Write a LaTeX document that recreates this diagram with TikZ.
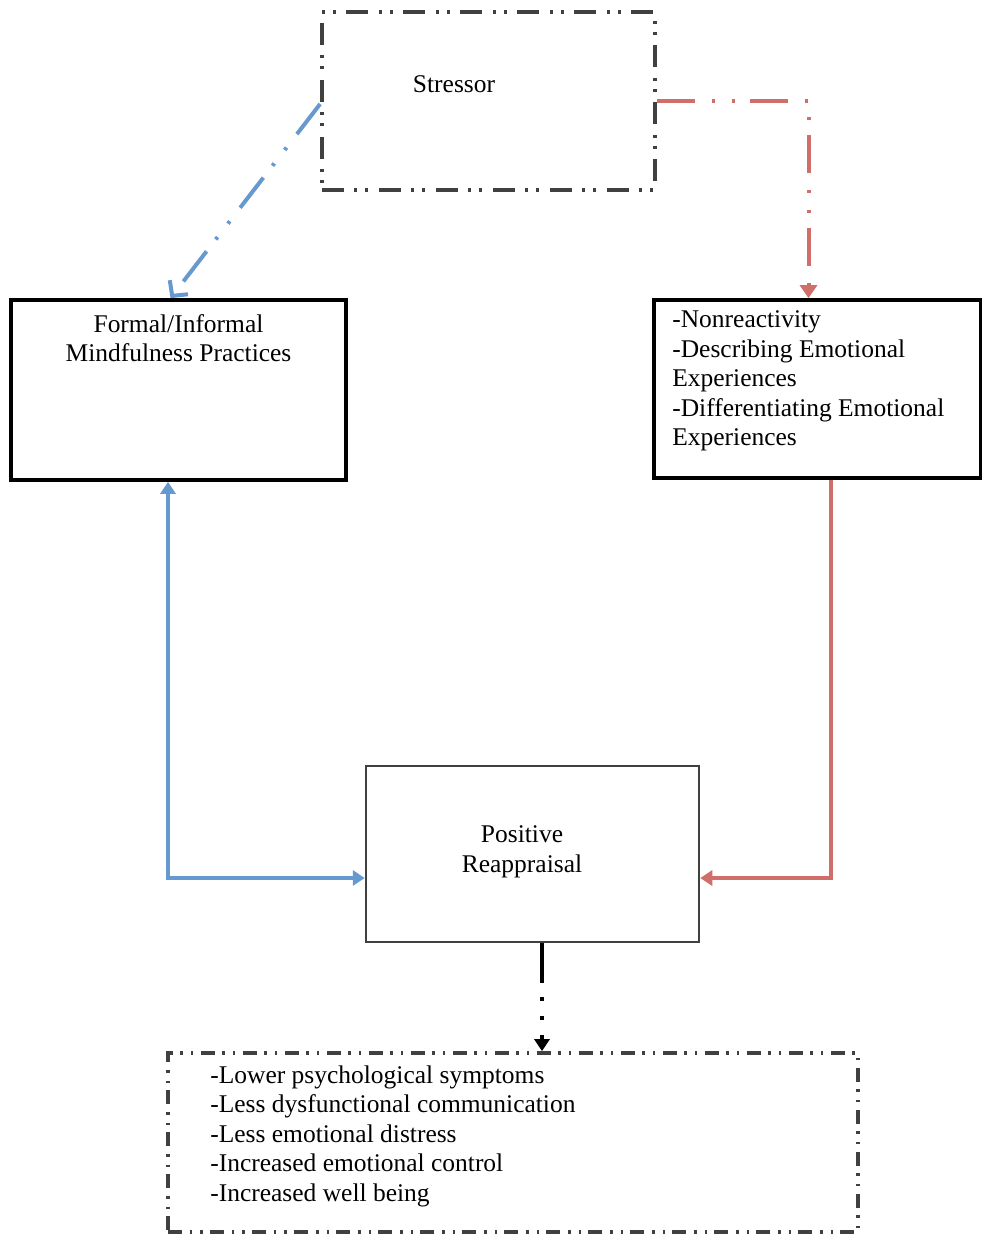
\documentclass[tikz,border=0pt]{standalone}
\usepackage{fontspec}
\setmainfont{Liberation Serif}
\usetikzlibrary{arrows.meta,positioning}

\definecolor{boxgray}{RGB}{64,64,64}
\definecolor{linkblue}{RGB}{102,153,207}
\definecolor{linkred}{RGB}{208,110,106}

\tikzset{
	solidbox/.style={draw=black, line width=0.75mm, inner sep=0, fill=white},
	dashbox/.style={draw=boxgray, line width=0.75mm, inner sep=0,
		dash pattern=on 4.4mm off 2mm on 0.6mm off 1.6mm on 0.6mm off 2.2mm},
	boxtext/.style={inner sep=0, font=\fontsize{14.5}{16.8}\selectfont},
	reddash/.style={draw=linkred, line width=0.8mm, -{Triangle[length=2.6mm,width=3.4mm]},
		dash pattern=on 7.6mm off 3.4mm on 0.6mm off 3.4mm on 0.6mm off 3mm},
	bluedash/.style={draw=linkblue, line width=0.8mm, -{Straight Barb[length=2.2mm,width=4.6mm]},
		dash pattern=on 7.6mm off 3.4mm on 0.6mm off 3.4mm on 0.6mm off 3mm},
	bluelink/.style={draw=linkblue, line width=0.9mm, {Triangle[length=2.4mm,width=3mm]}-{Triangle[length=2.4mm,width=3mm]}},
	redlink/.style={draw=linkred, line width=0.9mm, -{Triangle[length=2.4mm,width=3mm]}},
	outlink/.style={draw=black, line width=0.8mm, -{Triangle[length=2.4mm,width=3mm]},
		dash pattern=on 8mm off 2.8mm on 0.8mm off 3mm on 0.8mm off 3mm},
}

\begin{document}
\begin{tikzpicture}[x=0.2mm, y=-0.2mm]
	\useasboundingbox (0,0) rectangle (981,1237);

	% boxes
	\node[dashbox, minimum width=66.6mm, minimum height=35.6mm] (stressor) at (488.5,101) {};
	\node[solidbox, minimum width=67mm, minimum height=36mm] (mind) at (178.5,390) {};
	\node[solidbox, minimum width=65.4mm, minimum height=35.6mm] (right) at (817.5,389) {};
	\node[solidbox, draw=boxgray, line width=0.5mm, minimum width=66.6mm, minimum height=35.2mm] (appraisal) at (532.5,854) {};
	\node[dashbox, dash pattern=on 2.8mm off 1.6mm on 0.5mm off 1.6mm on 0.5mm off 1.4mm,
		minimum width=138mm, minimum height=35.8mm] (outcome) at (513,1142.5) {};

	% texts
	\node[boxtext] (stressortext) at (454,84) {Stressor};
	\node[boxtext, align=center] (mindtext) at (178.5,338) {Formal/Informal\\Mindfulness Practices};
	\node[boxtext, align=left, anchor=west] (righttext) at (672,381)
		{-Nonreactivity\\-Describing Emotional\\Experiences\\-Differentiating Emotional\\Experiences};
	\node[boxtext, align=center] (appraisaltext) at (522,852) {Positive\\Reappraisal};
	\node[boxtext, align=left, anchor=west] (outcometext) at (210,1136)
		{-Lower psychological symptoms\\-Less dysfunctional communication\\-Less emotional distress\\-Increased emotional control\\-Increased well being};

	% connectors
	\draw[bluedash] ([yshift=-0.6mm]stressor.west) -- ([xshift=-1.6mm]mind.north);
	\draw[reddash] (stressor.east) -| ([xshift=-1.8mm]right.north);
	\draw[bluelink] ([xshift=-2.1mm]mind.south) |- ([yshift=-4.8mm]appraisal.west);
	\draw[redlink] ([xshift=2.7mm]right.south) |- ([yshift=-4.8mm]appraisal.east);
	\draw[outlink] ([xshift=1.9mm]appraisal.south) -- ([xshift=1.9mm]appraisal.south |- outcome.north);
\end{tikzpicture}
\end{document}
